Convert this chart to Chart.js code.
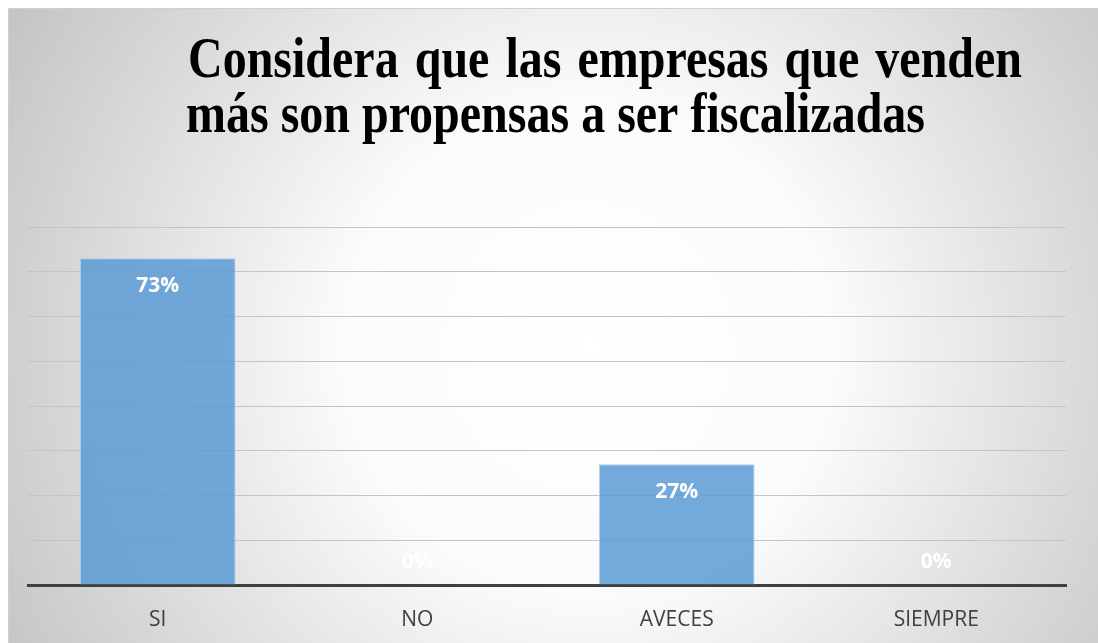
<!DOCTYPE html>
<html>
<head>
<meta charset="utf-8">
<script src="https://cdn.jsdelivr.net/npm/chart.js@4"></script>
<style>
  html, body { margin: 0; padding: 0; background: #ffffff; }
  #wrap { position: absolute; left: 8px; top: 8px; width: 1090px; height: 635px; }
</style>
</head>
<body>
<div id="wrap"><canvas id="grafico"></canvas></div>
<script>
const categorias = ['SI', 'NO', 'AVECES', 'SIEMPRE'];
const porcentajes = [0.73, 0, 0.27, 0];
const tituloLineas = ['Considera que las empresas que venden', 'más son propensas a ser fiscalizadas'];

// fondo con degradado radial y borde
const fondo = {
  id: 'fondo',
  beforeDraw(chart) {
    const { ctx, width, height } = chart;
    ctx.save();
    const g = ctx.createRadialGradient(580, 340, 0, 580, 340, 700);
    g.addColorStop(0, '#ffffff');
    g.addColorStop(0.35, '#fbfbfb');
    g.addColorStop(0.72, '#d9d9d9');
    g.addColorStop(1, '#c0c0c0');
    ctx.fillStyle = g;
    ctx.fillRect(0, 0, width, height);
    ctx.strokeStyle = '#cfcfcf';
    ctx.lineWidth = 1;
    ctx.strokeRect(0.5, 0.5, width, height);
    ctx.restore();
  }
};

// titulo justificado y condensado
const titulo = {
  id: 'titulo',
  afterDraw(chart) {
    const ctx = chart.ctx;
    ctx.save();
    ctx.font = 'bold 57px "Liberation Serif", "Times New Roman", serif';
    ctx.fillStyle = '#000000';
    ctx.textBaseline = 'alphabetic';
    const ancho2 = ctx.measureText(tituloLineas[1]).width;
    const escala = 739 / ancho2;
    const lineas = [
      { texto: tituloLineas[0], x: 180, y: 69, ancho: 834 },
      { texto: tituloLineas[1], x: 178, y: 124, ancho: 739 }
    ];
    lineas.forEach(l => {
      const palabras = l.texto.split(' ');
      const anchos = palabras.map(p => ctx.measureText(p).width * escala);
      const total = anchos.reduce((a, b) => a + b, 0);
      const hueco = (l.ancho - total) / (palabras.length - 1);
      let x = l.x;
      palabras.forEach((p, i) => {
        ctx.save();
        ctx.translate(x, l.y);
        ctx.scale(escala, 1);
        ctx.fillText(p, 0, 0);
        ctx.restore();
        x += anchos[i] + hueco;
      });
    });
    ctx.restore();
  }
};

// etiquetas de porcentaje
const etiquetas = {
  id: 'etiquetas',
  afterDatasetsDraw(chart) {
    const ctx = chart.ctx;
    const meta = chart.getDatasetMeta(0);
    ctx.save();
    ctx.font = 'bold 21px "Open Sans", sans-serif';
    ctx.fillStyle = '#ffffff';
    ctx.textAlign = 'center';
    ctx.textBaseline = 'middle';
    meta.data.forEach((bar, i) => {
      const v = porcentajes[i];
      const y = v > 0 ? bar.y + 28 : bar.base - 23;
      ctx.fillText(Math.round(v * 100) + '%', bar.x, y);
    });
    ctx.restore();
  }
};

new Chart(document.getElementById('grafico'), {
  type: 'bar',
  data: {
    labels: categorias,
    datasets: [{
      data: porcentajes,
      backgroundColor: 'rgba(91,155,213,0.85)',
      borderColor: 'rgba(170,204,235,0.9)',
      borderWidth: 1,
      barPercentage: 0.6,
      categoryPercentage: 1
    }]
  },
  options: {
    responsive: true,
    maintainAspectRatio: false,
    animation: false,
    layout: { padding: { left: 20, right: 32, top: 219, bottom: 0 } },
    plugins: {
      legend: { display: false },
      tooltip: { enabled: false },
      title: { display: false }
    },
    scales: {
      x: {
        grid: { display: false },
        border: { display: true, color: '#404040', width: 3 },
        afterFit(scale) { scale.height = 58; },
        ticks: {
          color: '#404040',
          padding: 14,
          font: { family: '"Open Sans", sans-serif', size: 21 }
        }
      },
      y: {
        min: 0,
        max: 0.8,
        ticks: { display: false, stepSize: 0.1 },
        grid: { color: '#c4c4c4', lineWidth: 1, drawTicks: false },
        border: { display: false }
      }
    }
  },
  plugins: [fondo, titulo, etiquetas]
});
</script>
</body>
</html>
